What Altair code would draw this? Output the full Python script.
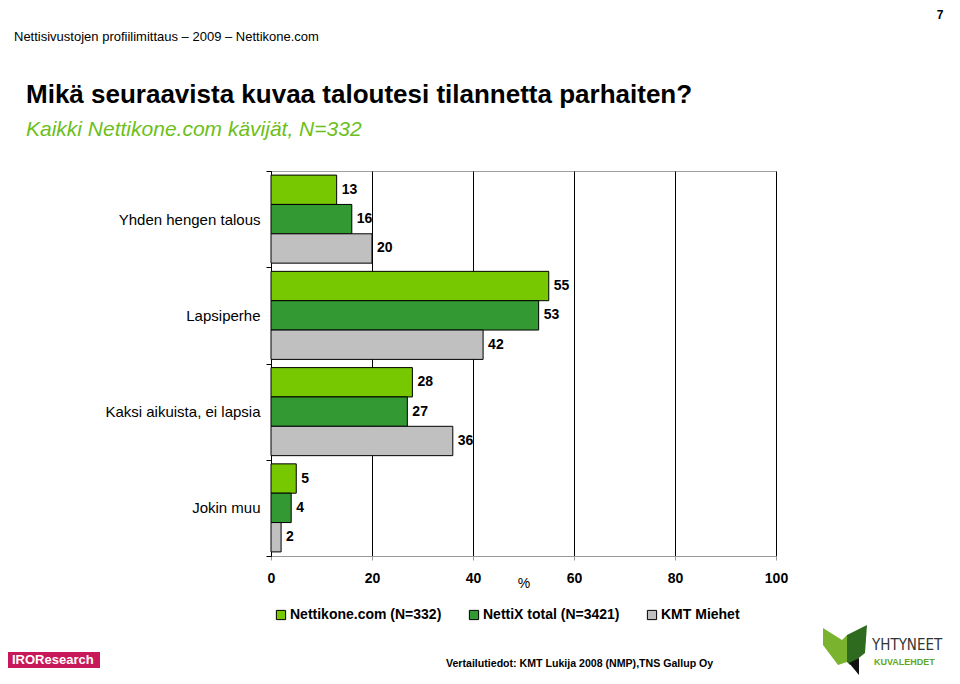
import altair as alt
import pandas as pd

categories = ["Yhden hengen talous", "Lapsiperhe", "Kaksi aikuista, ei lapsia", "Jokin muu"]
series = ["Nettikone.com (N=332)", "NettiX total (N=3421)", "KMT Miehet"]
nettikone = [13, 55, 28, 5]
nettix = [16, 53, 27, 4]
kmt = [20, 42, 36, 2]
colors = ["#77C800", "#339933", "#C0C0C0"]
x_ticks = [0, 20, 40, 60, 80, 100]

rows = []
for s, vals in zip(series, [nettikone, nettix, kmt]):
    for c, v in zip(categories, vals):
        rows.append({"category": c, "series": s, "value": v})
df = pd.DataFrame(rows)

W, H = 505, 385
OX, OY = 271, 171  # page position of plot origin
FONT = "Liberation Sans"

base = alt.Chart(df).encode(
    y=alt.Y(
        "category:N",
        sort=categories,
        scale=alt.Scale(paddingInner=0, paddingOuter=0),
        axis=alt.Axis(
            title=None, tickBand="extent", labelFontSize=15, labelFont=FONT,
            labelColor="black", labelPadding=6, tickSize=5, tickColor="black",
            domainColor="black", grid=False,
        ),
    ),
    yOffset=alt.YOffset("series:N", sort=series,
                        scale=alt.Scale(paddingInner=0, paddingOuter=0.14)),
)

bars = base.mark_bar(stroke="black", strokeWidth=1).encode(
    x=alt.X(
        "value:Q",
        scale=alt.Scale(domain=[0, 100], nice=False),
        axis=alt.Axis(
            values=x_ticks, title="%", labelFontSize=14, labelFontWeight="bold",
            labelFont=FONT, labelColor="black", labelPadding=11, tickSize=4,
            labelFlush=False,
            tickColor="#999999", domainColor="#999999", grid=True,
            gridColor="black", gridWidth=1, titleFontSize=14, titleFont=FONT,
            titleFontWeight="normal", titleColor="black", titleX=W / 2,
            titleY=27, titleBaseline="middle",
        ),
    ),
    color=alt.Color(
        "series:N", sort=series,
        scale=alt.Scale(domain=series, range=colors),
        legend=alt.Legend(
            title=None, orient="none", legendX=3, legendY=437,
            direction="horizontal", symbolType="square", symbolSize=85,
            symbolStrokeColor="black", symbolStrokeWidth=1, labelFontSize=14,
            labelFontWeight="bold", labelFont=FONT, labelColor="black",
            columnPadding=25, labelOffset=2, padding=0,
        ),
    ),
)

labels = base.mark_text(
    align="left", baseline="middle", dx=5, fontWeight="bold", fontSize=14,
    font=FONT, color="black",
).encode(x=alt.X("value:Q"), text=alt.Text("value:Q"))


def txt(text, x, y, size, weight="normal", color="black", style="normal",
        align="left", baseline="middle", font=FONT):
    return alt.Chart(pd.DataFrame({"t": [text]})).mark_text(
        align=align, baseline=baseline, fontSize=size, fontWeight=weight,
        color=color, fontStyle=style, font=font,
    ).encode(x=alt.value(x - OX), y=alt.value(y - OY), text="t:N")


def rect(x1, y1, x2, y2, color):
    return alt.Chart(pd.DataFrame({"a": [0]})).mark_rect(color=color).encode(
        x=alt.value(x1 - OX), x2=alt.value(x2 - OX),
        y=alt.value(y1 - OY), y2=alt.value(y2 - OY),
    )


def shape(path, cx, cy, size, color):
    return alt.Chart(pd.DataFrame({"a": [0]})).mark_point(
        shape=path, filled=True, size=size, color=color, opacity=1,
        strokeWidth=0,
    ).encode(x=alt.value(cx - OX), y=alt.value(cy - OY))


header = txt("Nettisivustojen profiilimittaus – 2009 – Nettikone.com", 14, 37, 13)
title = txt("Mikä seuraavista kuvaa taloutesi tilannetta parhaiten?", 26, 103, 26,
            weight="bold", baseline="alphabetic")
subtitle = txt("Kaikki Nettikone.com kävijät, N=332", 26, 136, 21,
               color="#6CBF1A", style="italic", baseline="alphabetic")
pagenum = txt("7", 940, 10, 12, weight="bold", align="center", baseline="top")
footer = txt("Vertailutiedot: KMT Lukija 2008 (NMP),TNS Gallup Oy", 446, 664, 10.6,
             weight="bold")
iro_box = rect(8, 652, 100, 668, "#C8185A")
iro_txt = txt("IROResearch", 12, 660, 13, weight="bold", color="white")
yht = txt("YHTYNEET", 872, 645, 15, color="#333333", font="DejaVu Sans Condensed")
kuva = txt("KUVALEHDET", 874, 662, 9, weight="bold", color="#5FA81E")
leaf1 = shape("M -0.88 -0.88 L -0.12 -0.4 L 0.08 -0.6 L 0.08 0.48 L -0.28 0.6 L -0.88 -0.2 Z",
              845, 650, 2500, "#7AB32E")
leaf2 = shape("M 0.08 -0.6 L 0.88 -1 L 0.8 0.12 L 0.2 0.6 L 0.08 0.48 Z",
              845, 650, 2500, "#2F6B1E")
tri = shape("M 0.16 0.52 L 0.56 0.32 L 0.56 1 Z", 845, 650, 2500, "#111111")

chart = alt.layer(
    bars, labels, header, title, subtitle, pagenum, footer, iro_box, iro_txt,
    yht, kuva, leaf1, leaf2, tri,
).properties(
    width=W, height=H,
    padding={"left": 263, "top": 163, "right": 176, "bottom": 120},
    autosize=alt.AutoSizeParams(type="none"),
).configure_view(stroke="#A0A0A0", strokeWidth=1)

chart.save("out.html", embed_options={"renderer": "svg", "actions": False})
